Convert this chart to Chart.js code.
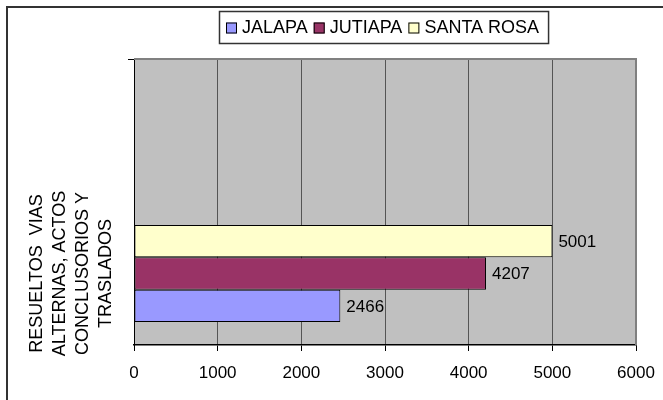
<!DOCTYPE html>
<html>
<head>
<meta charset="utf-8">
<script src="https://cdn.jsdelivr.net/npm/chart.js@4/dist/chart.umd.min.js"></script>
<style>
  html, body { margin: 0; padding: 0; background: #fff; }
  #wrap { width: 663px; height: 400px; }
</style>
</head>
<body>
<div id="wrap"><canvas id="grafica" width="663" height="400"></canvas></div>
<script>
// categoria inferior con texto, la superior queda vacia
const categorias = [["RESUELTOS  VIAS", "ALTERNAS, ACTOS", "CONCLUSORIOS Y", "TRASLADOS"], ""];
const departamentos = ["JALAPA", "JUTIAPA", "SANTA ROSA"];
const jalapa = [2466, null];
const jutiapa = [4207, null];
const santaRosa = [5001, null];
const colores = ["#9999FF", "#993366", "#FFFFCC"];
const ticksX = [0, 1000, 2000, 3000, 4000, 5000, 6000];

const FUENTE = '"Liberation Sans", Arial, sans-serif';
Chart.defaults.font.family = FUENTE;
Chart.defaults.color = "#000";

const fondo = {
  id: "fondo",
  beforeDraw(chart) {
    const { ctx, chartArea: a } = chart;
    ctx.save();
    ctx.fillStyle = "#C0C0C0";
    ctx.fillRect(a.left, a.top, a.right - a.left, a.bottom - a.top);
    // marco exterior
    ctx.strokeStyle = "#333";
    ctx.lineWidth = 2;
    ctx.beginPath();
    ctx.moveTo(7, 400);
    ctx.lineTo(7, 7);
    ctx.lineTo(663, 7);
    ctx.stroke();
    ctx.restore();
  },
  afterDraw(chart) {
    const { ctx, chartArea: a } = chart;
    ctx.save();
    ctx.strokeStyle = "#808080";
    ctx.lineWidth = 2;
    ctx.beginPath();
    ctx.moveTo(a.left, a.top);
    ctx.lineTo(a.right, a.top);
    ctx.lineTo(a.right, a.bottom);
    ctx.stroke();
    ctx.restore();
  }
};

const valores = {
  id: "valores",
  afterDatasetsDraw(chart) {
    const ctx = chart.ctx;
    ctx.save();
    ctx.font = "17px " + FUENTE;
    ctx.fillStyle = "#000";
    ctx.textAlign = "left";
    ctx.textBaseline = "middle";
    chart.data.datasets.forEach((ds, i) => {
      chart.getDatasetMeta(i).data.forEach((bar, j) => {
        const v = ds.data[j];
        if (v == null) return;
        ctx.fillText(String(v), bar.x + 6, bar.y + 1);
      });
    });
    ctx.restore();
  }
};

const leyenda = {
  id: "leyenda",
  afterDraw(chart) {
    const { ctx, chartArea: a } = chart;
    const caja = 11, sep = 5, entre = 6, padIzq = 7, padDer = 9;
    ctx.save();
    ctx.font = "18px " + FUENTE;
    const items = chart.data.datasets.map(ds => ({
      texto: ds.label, color: ds.backgroundColor, ancho: ctx.measureText(ds.label).width
    }));
    let total = padIzq + padDer;
    items.forEach((it, i) => { total += caja + sep + it.ancho + (i ? entre : 0); });
    const x0 = Math.round((a.left + a.right) / 2 - total / 2) - 1;
    const y0 = 11, alto = 32;
    ctx.strokeStyle = "#333";
    ctx.lineWidth = 1.5;
    ctx.strokeRect(x0 + 0.5, y0 + 0.5, total, alto);
    let x = x0 + padIzq;
    const cy = y0 + alto / 2 + 1;
    ctx.textBaseline = "middle";
    ctx.textAlign = "left";
    items.forEach(it => {
      ctx.fillStyle = it.color;
      ctx.fillRect(x, cy - caja / 2, caja, caja);
      ctx.strokeStyle = "#000";
      ctx.lineWidth = 1;
      ctx.strokeRect(x + 0.5, cy - caja / 2 + 0.5, caja - 1, caja - 1);
      ctx.fillStyle = "#000";
      ctx.fillText(it.texto, x + caja + sep, cy);
      x += caja + sep + it.ancho + entre;
    });
    ctx.restore();
  }
};

const series = [jalapa, jutiapa, santaRosa];

new Chart(document.getElementById("grafica"), {
  type: "bar",
  data: {
    labels: categorias,
    datasets: departamentos.map((d, i) => ({
      label: d,
      data: series[i],
      backgroundColor: colores[i],
      borderColor: "#000",
      borderWidth: 1,
      borderSkipped: false,
      order: departamentos.length - i,
      barPercentage: 1,
      categoryPercentage: 0.68
    }))
  },
  options: {
    indexAxis: "y",
    responsive: false,
    animation: false,
    devicePixelRatio: 1,
    layout: { padding: { top: 59, right: 27, bottom: 0, left: 0 } },
    plugins: {
      legend: { display: false },
      tooltip: { enabled: false }
    },
    scales: {
      x: {
        min: ticksX[0],
        max: ticksX[ticksX.length - 1],
        ticks: {
          stepSize: ticksX[1] - ticksX[0], padding: 12, color: "#000", font: { size: 17 },
          callback: v => String(v)
        },
        grid: { color: "#555", tickColor: "#000", tickLength: 6, lineWidth: 1 },
        border: { color: "#000", width: 1.5 },
        afterFit(s) { s.height = 55; s.paddingLeft = 0; s.paddingRight = 0; }
      },
      y: {
        reverse: true,
        grid: { offset: true, drawOnChartArea: false, drawTicks: true, tickLength: 6, color: "#000", tickColor: "#000" },
        border: { color: "#000", width: 1 },
        ticks: {
          minRotation: 90, maxRotation: 90, crossAlign: "center", padding: -26,
          color: "#000", font: { size: 18, lineHeight: 1.27 }
        },
        afterFit(s) { s.width = 134; s.paddingTop = 0; s.paddingBottom = 0; }
      }
    }
  },
  plugins: [fondo, valores, leyenda]
});
</script>
</body>
</html>
